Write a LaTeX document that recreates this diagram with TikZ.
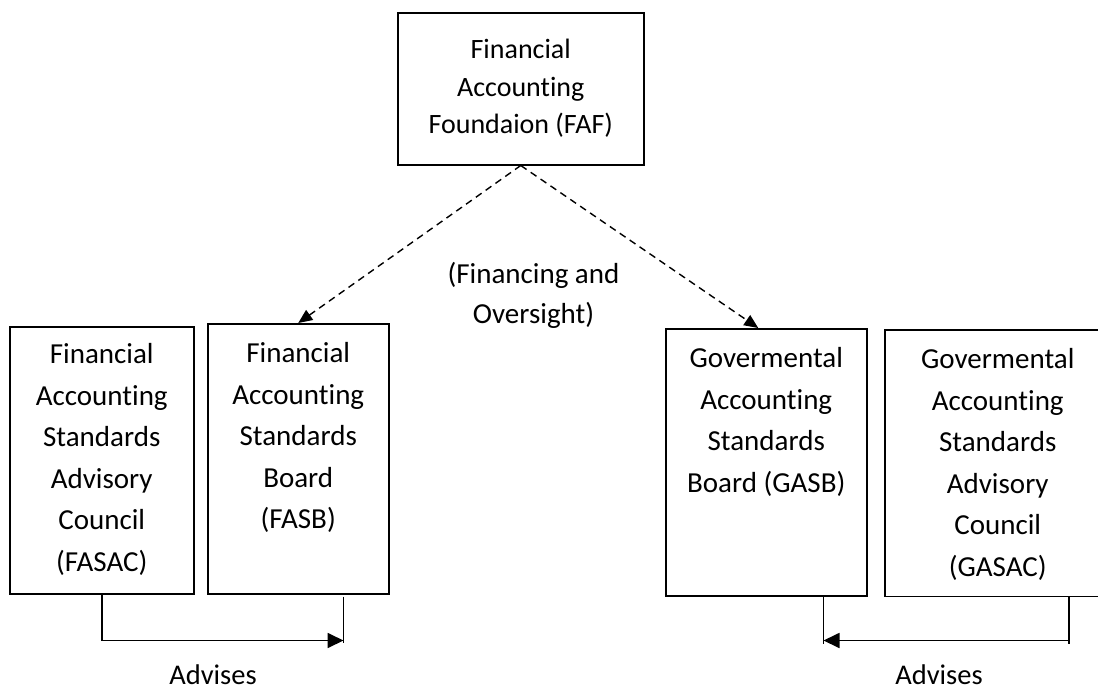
\documentclass[tikz,border=0pt]{standalone}
\usepackage{fontspec}
\setmainfont{Carlito}[Ligatures={NoCommon,NoContextual}, RawFeature={-liga;-clig;-calt}]
\usetikzlibrary{arrows.meta}

% #1 width, #2 height, #3 depth of first baseline, #4 text
\newcommand{\orgtext}[4]{\parbox[c][#2][t]{#1}{\centering\rule{0pt}{#3}#4}}

\tikzset{
  orgbox/.style={draw, line width=1.5pt, inner sep=0pt, anchor=north west},
  openbox/.style={line width=1.5pt},
  oversee/.style={line width=1.4pt, dash pattern=on 7pt off 5pt,
    -{Triangle[length=14pt,width=12pt]}},
  advise/.style={line width=1.8pt, line join=miter,
    -{Triangle[length=16pt,width=15pt]}},
  tick/.style={line width=1.8pt},
  big/.style={font=\fontsize{29}{41.5}\selectfont},
}

\begin{document}
\begin{tikzpicture}[x=1pt,y=-1pt]
\useasboundingbox (0,0) rectangle (1098,688);
\clip (0,0) rectangle (1098,688);

% foundation
\node[orgbox, font=\fontsize{28}{37.5}\selectfont] (faf) at (397,12)
  {\orgtext{246pt}{152pt}{46pt}{Financial\\Accounting\\Foundaion (FAF)}};

% private sector side
\node[orgbox, big] (fasac) at (9,326)
  {\orgtext{184pt}{267pt}{37pt}{Financial\\Accounting\\Standards\\Advisory\\Council\\(FASAC)}};
\node[orgbox, big] (fasb) at (207,323)
  {\orgtext{181pt}{270pt}{39pt}{Financial\\Accounting\\Standards\\Board\\(FASB)}};

% governmental side
\node[orgbox, big] (gasb) at (665,328)
  {\orgtext{201pt}{267pt}{39pt}{Govermental\\Accounting\\Standards\\Board (GASB)}};
% the advisory council box runs on past the right margin
\node[orgbox, draw=none, big] (gasac) at (885,330)
  {\orgtext{224pt}{265pt}{38pt}{Govermental\\Accounting\\Standards\\Advisory\\Council\\(GASAC)}};
\draw[openbox] ([xshift=120pt]gasac.north east) -- (gasac.north west)
  -- (gasac.south west) -- ([xshift=120pt]gasac.south east);

% financing and oversight
\draw[oversee] (faf.south) -- (fasb.north);
\draw[oversee] (faf.south) -- ([xshift=-8pt]gasb.north);
\node[big, anchor=base, inner sep=0pt] (fin) at (533.5,283)
  {\parbox[t]{250pt}{\centering\fontsize{29}{40}\selectfont (Financing and\\Oversight)}};

% advisory links
\coordinate (fasbport) at ([xshift=-46pt]fasb.south east);
\coordinate (gasbport) at ([xshift=-44pt]gasb.south east);
\coordinate (gasacport) at ([xshift=184pt]gasac.south west);

\draw[advise] (fasac.south) |- ([yshift=-46pt]fasbport);
\draw[tick] ([yshift=-2pt]fasbport) -- ([yshift=-48pt]fasbport);
\draw[advise] (gasacport) |- ([yshift=-44pt]gasbport);
\draw[tick] (gasacport) -- ([yshift=-47pt]gasacport);
\draw[tick] (gasbport) -- ([yshift=-47pt]gasbport);

\node[anchor=base, font=\fontsize{28.5}{34}\selectfont] (adv1) at (213,684) {Advises};
\node[anchor=base, font=\fontsize{28.5}{34}\selectfont] (adv2) at (939,684) {Advises};
\end{tikzpicture}
\end{document}
